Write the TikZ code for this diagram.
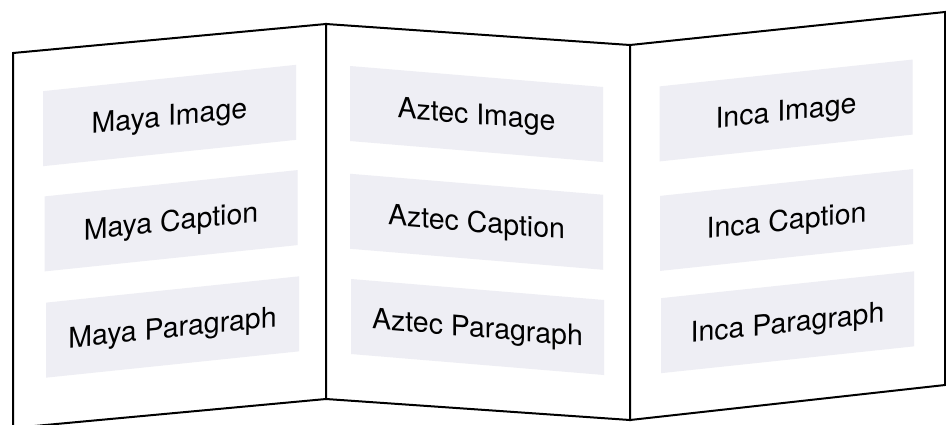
\documentclass[tikz,border=0pt]{standalone}
\usepackage{fontspec}
\setmainfont{TeX Gyre Heros}
\definecolor{boxfill}{RGB}{238,238,244}
\begin{document}
\begin{tikzpicture}[x=1pt,y=-1pt,
  panel/.style={draw=black, line width=2pt, fill=white, line join=miter},
  card/.style={fill=boxfill, minimum width=253pt, minimum height=75pt, inner sep=0pt,
    text height=20.4pt, text depth=0pt, font=\fontsize{28.5}{34}\selectfont},
  lslant/.style={yslant=0.104},
  mslant/.style={yslant=-0.083},
  rslant/.style={yslant=0.106}]
\useasboundingbox (0,0) rectangle (946,424);
\clip (0,0) rectangle (946,424);
% panel corners
\coordinate (ltl) at (13,53);
\coordinate (ltr) at (326,24);
\coordinate (lbr) at (326,399);
\coordinate (lbl) at (13,428);
\coordinate (mtr) at (630,45);
\coordinate (mbr) at (630,420);
\coordinate (rtr) at (945,12);
\coordinate (rbr) at (945,385);
% panels
\draw[panel] (ltl) -- (ltr) -- (lbr) -- (lbl) -- cycle;
\draw[panel] (ltr) -- (mtr) -- (mbr) -- (lbr) -- cycle;
\draw[panel] (mtr) -- (rtr) -- (rbr) -- (mbr) -- cycle;
% left panel cards
\node[card, lslant] (mayaimg) at (169.5,115.5) {Maya Image};
\node[card, lslant] (mayacap) at (171,220.75) {Maya Caption};
\node[card, lslant] (mayapar) at (172.5,327) {Maya Paragraph};
% middle panel cards
\node[card, mslant] (aztecimg) at (476.5,114) {Aztec Image};
\node[card, mslant] (azteccap) at (476.5,221.75) {Aztec Caption};
\node[card, mslant] (aztecpar) at (477.5,327) {Aztec Paragraph};
% right panel cards
\node[card, rslant] (incaimg) at (786,110.5) {Inca Image};
\node[card, rslant] (incacap) at (786.5,220) {Inca Caption};
\node[card, rslant] (incapar) at (787.5,322.25) {Inca Paragraph};
\end{tikzpicture}
\end{document}
